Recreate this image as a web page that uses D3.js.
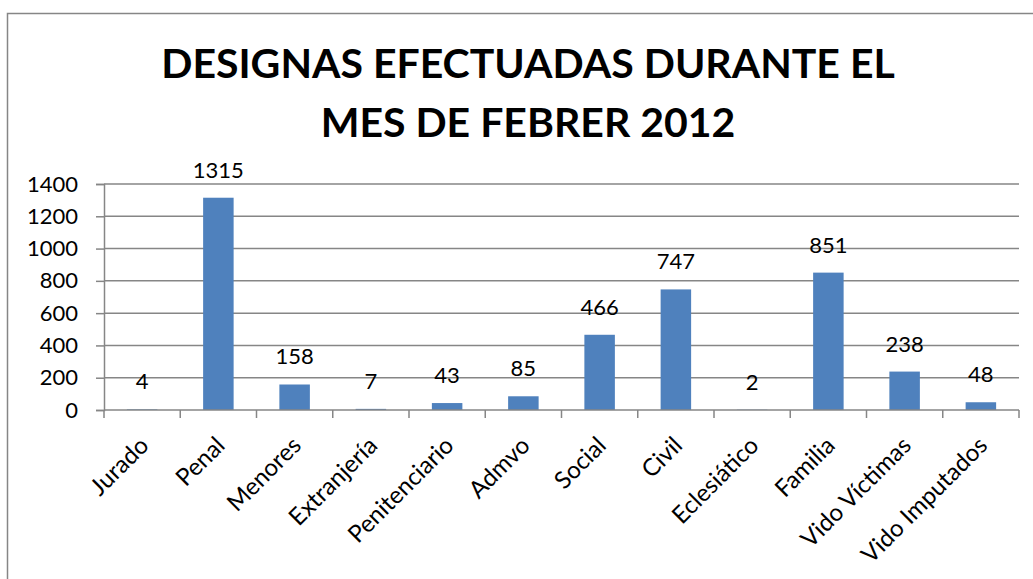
<!DOCTYPE html>
<html>
<head>
<meta charset="utf-8">
<script src="https://cdn.jsdelivr.net/npm/d3@7"></script>
<style>
  body { margin: 0; background: #fff; }
  svg { display: block; font-family: Lato, "Open Sans", sans-serif; }
</style>
</head>
<body>
<svg id="chart" width="1033" height="579"></svg>
<script>
const categories = ["Jurado", "Penal", "Menores", "Extranjería", "Penitenciario", "Admvo",
  "Social", "Civil", "Eclesiático", "Familia", "Vido Víctimas", "Vido Imputados"];
const values = [4, 1315, 158, 7, 43, 85, 466, 747, 2, 851, 238, 48];
const yTicks = [0, 200, 400, 600, 800, 1000, 1200, 1400];
const titleLines = ["DESIGNAS EFECTUADAS DURANTE EL", "MES DE FEBRER 2012"];

const margin = { top: 184, right: 14, bottom: 169, left: 104 };
const width = 1033, height = 579;
const grey = "#868686";
const barColor = "#4f81bd";

const svg = d3.select("#chart");

// chart area border
svg.append("rect")
  .attr("x", 7.5).attr("y", 13.5)
  .attr("width", 1040).attr("height", 600)
  .attr("fill", "none").attr("stroke", grey).attr("stroke-width", 1.5);

// title
svg.append("g").selectAll("text")
  .data(titleLines)
  .join("text")
    .attr("x", 528)
    .attr("y", (d, i) => 78 + i * 59)
    .attr("text-anchor", "middle")
    .attr("font-size", 41)
    .attr("font-weight", "bold")
    .attr("fill", "#000")
    .text(d => d);

const x = d3.scaleBand(categories, [margin.left, width - margin.right])
  .paddingInner(0.6).paddingOuter(0.3);
const xTicks = d3.scaleBand(categories, [margin.left, width - margin.right]);
const y = d3.scaleLinear([0, 1400], [height - margin.bottom, margin.top]);

// gridlines
svg.append("g")
  .selectAll("line")
  .data(yTicks.slice(1))
  .join("line")
    .attr("x1", margin.left).attr("x2", width - margin.right)
    .attr("y1", d => y(d)).attr("y2", d => y(d))
    .attr("stroke", grey).attr("stroke-width", 1.5);

// y axis
const yAxis = svg.append("g")
  .attr("transform", `translate(${margin.left},0)`)
  .call(d3.axisLeft(y).tickValues(yTicks).tickSize(8).tickPadding(18).tickFormat(d3.format("d")));
yAxis.select(".domain").attr("stroke", grey).attr("stroke-width", 1.5);
yAxis.selectAll(".tick line").attr("stroke", grey).attr("stroke-width", 1.5);
yAxis.selectAll(".tick text").attr("font-size", 22).attr("fill", "#000").attr("font-family", "Lato, sans-serif");

// bars
svg.append("g")
  .selectAll("rect")
  .data(values)
  .join("rect")
    .attr("x", (d, i) => x(categories[i]))
    .attr("width", x.bandwidth())
    .attr("y", d => y(d))
    .attr("height", d => y(0) - y(d))
    .attr("fill", barColor);

// value labels
svg.append("g")
  .selectAll("text")
  .data(values)
  .join("text")
    .attr("x", (d, i) => x(categories[i]) + x.bandwidth() / 2)
    .attr("y", d => y(d) - 20)
    .attr("text-anchor", "middle")
    .attr("font-size", 22)
    .attr("fill", "#000")
    .text(d => d);

// x axis
const xAxisG = svg.append("g").attr("transform", `translate(0,${y(0)})`);
xAxisG.append("line")
  .attr("x1", margin.left).attr("x2", width - margin.right)
  .attr("stroke", grey).attr("stroke-width", 1.5);
xAxisG.selectAll(".tk")
  .data(categories.concat(["__end"]))
  .join("line")
    .attr("class", "tk")
    .attr("x1", (d, i) => margin.left + i * xTicks.step())
    .attr("x2", (d, i) => margin.left + i * xTicks.step())
    .attr("y1", 0).attr("y2", 8)
    .attr("stroke", grey).attr("stroke-width", 1.5);
xAxisG.selectAll(".lbl")
  .data(categories)
  .join("text")
    .attr("class", "lbl")
    .attr("transform", d => `translate(${xTicks(d) + xTicks.bandwidth() / 2 + 8},${37}) rotate(-45)`)
    .attr("text-anchor", "end")
    .attr("font-size", 24)
    .attr("fill", "#000")
    .text(d => d);
</script>
</body>
</html>
